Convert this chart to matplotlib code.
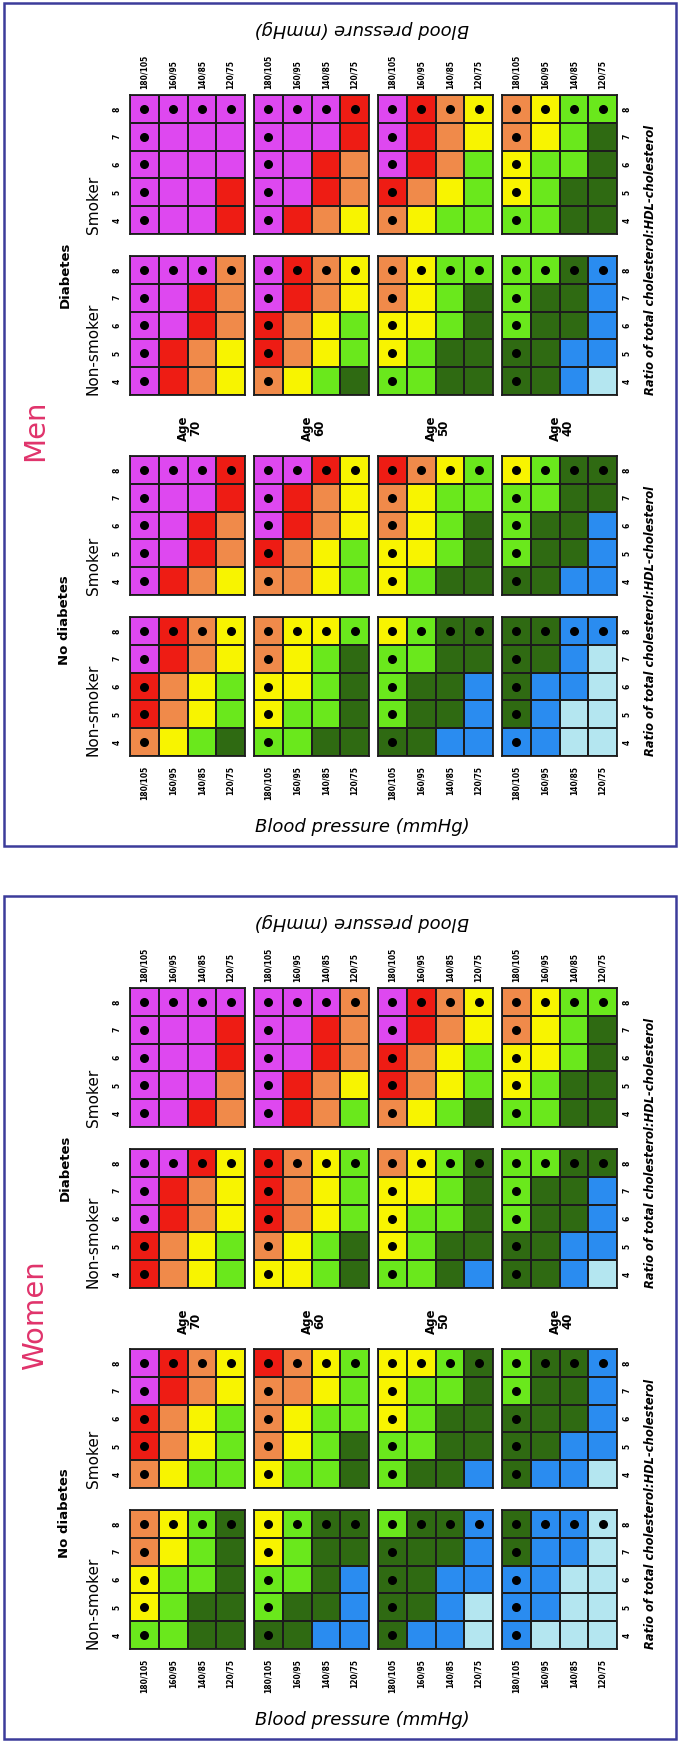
import numpy as np
import matplotlib
matplotlib.use('Agg')
import matplotlib.pyplot as plt
from matplotlib.colors import ListedColormap, BoundaryNorm
from matplotlib.patches import Rectangle

W, H = 679, 1742

# risk bands, lowest to highest
risk_codes = 'LBDGYORM'
risk_colors = ['#b4e6f0', '#2a8cf0', '#2f6a12', '#6ae81c',
               '#f8f400', '#f08a4a', '#ee1c14', '#de48f0']

ratios = [4, 5, 6, 7, 8]
bp_labels = ['180/105', '160/95', '140/85', '120/75']
ages = [70, 60, 50, 40]

# one grid per age; rows are ratio 8 down to 4, columns 180/105 .. 120/75
men_diab_smoker = [
    ['MMMM', 'MMMM', 'MMMM', 'MMMR', 'MMMR'],
    ['MMMR', 'MMMR', 'MMRO', 'MMRO', 'MROY'],
    ['MROY', 'MROY', 'MROG', 'ROYG', 'OYGG'],
    ['OYGG', 'OYGD', 'YGGD', 'YGDD', 'GGDD'],
]
men_diab_nonsmoker = [
    ['MMMO', 'MMRO', 'MMRO', 'MROY', 'MROY'],
    ['MROY', 'MROY', 'ROYG', 'ROYG', 'OYGD'],
    ['OYGG', 'OYGD', 'YYGD', 'YGDD', 'GGDD'],
    ['GGDB', 'GDDB', 'GDDB', 'DDBB', 'DDBL'],
]
men_nodiab_smoker = [
    ['MMMR', 'MMMR', 'MMRO', 'MMRO', 'MROY'],
    ['MMRY', 'MROY', 'MROY', 'ROYG', 'OOYG'],
    ['ROYG', 'OYGG', 'OYGD', 'YYGD', 'YGDD'],
    ['YGDD', 'GGDD', 'GDDB', 'GDDB', 'DDBB'],
]
men_nodiab_nonsmoker = [
    ['MROY', 'MROY', 'ROYG', 'ROYG', 'OYGD'],
    ['OYYG', 'OYGD', 'YYGD', 'YGGD', 'GGDD'],
    ['YGDD', 'GGDD', 'GDDB', 'GDDB', 'DDBB'],
    ['DDBB', 'DDBL', 'DBBL', 'DBLL', 'BBLL'],
]
women_diab_smoker = [
    ['MMMM', 'MMMR', 'MMMR', 'MMMO', 'MMRO'],
    ['MMMO', 'MMRO', 'MMRO', 'MROY', 'MROG'],
    ['MROY', 'MROY', 'ROYG', 'ROYG', 'OYGD'],
    ['OYGG', 'OYGD', 'YYGD', 'YGDD', 'GGDD'],
]
women_diab_nonsmoker = [
    ['MMRY', 'MROY', 'MROY', 'ROYG', 'ROYG'],
    ['ROYG', 'ROYG', 'ROYG', 'OYGD', 'YYGD'],
    ['OYGD', 'YYGD', 'YGGD', 'YGDD', 'GGDB'],
    ['GGDD', 'GDDB', 'GDDB', 'DDBB', 'DDBL'],
]
women_nodiab_smoker = [
    ['MROY', 'MROY', 'ROYG', 'ROYG', 'OYGG'],
    ['ROYG', 'OOYG', 'OYGG', 'OYGD', 'YGGD'],
    ['YYGD', 'YGGD', 'YGDD', 'GGDD', 'GDDB'],
    ['GDDB', 'GDDB', 'DDDB', 'DDBB', 'DBBL'],
]
women_nodiab_nonsmoker = [
    ['OYGD', 'OYGD', 'YGGD', 'YGDD', 'GGDD'],
    ['YGDD', 'YGDD', 'GGDB', 'GDDB', 'DDBB'],
    ['GDDB', 'DDDB', 'DDBB', 'DDBL', 'DBBL'],
    ['DBBL', 'DBBL', 'BBLL', 'BBLL', 'BLLL'],
]

panels = [
    ('Men', 0, 430, [men_diab_smoker, men_diab_nonsmoker,
                     men_nodiab_smoker, men_nodiab_nonsmoker]),
    ('Women', 893, 422, [women_diab_smoker, women_diab_nonsmoker,
                         women_nodiab_smoker, women_nodiab_nonsmoker]),
]

cmap = ListedColormap(risk_colors)
norm = BoundaryNorm(np.arange(-0.5, len(risk_colors)), cmap.N)

grid_x = [130, 254, 378, 502]
grid_w = 115
row_tops = [95, 256, 456, 617]
grid_h = 139
line_col = '#1c1c1c'


def fx(x):
    return x / W


def fy(y):
    return 1 - y / H


def draw_grid(ax, rows, top, bottom, left, right):
    codes = np.array([[risk_codes.index(c) for c in r] for r in rows[::-1]])
    ax.pcolormesh(np.arange(5), np.arange(3.5, 9), codes, cmap=cmap, norm=norm,
                  edgecolors=line_col, linewidth=1.1)
    # dots mark the 180/105 column and the ratio 8 row
    xs, ys = [], []
    for r in ratios:
        for j in range(4):
            if j == 0 or r == 8:
                xs.append(j + 0.5)
                ys.append(r)
    ax.scatter(xs, ys, s=30, color='black', zorder=3)
    ax.set_xlim(0, 4)
    ax.set_ylim(3.5, 8.5)
    ax.set_xticks([0.5, 1.5, 2.5, 3.5])
    ax.set_xticklabels(bp_labels, rotation=90, fontsize=5.5, fontweight='bold')
    ax.set_yticks(ratios)
    ax.set_yticklabels(ratios, rotation=90, fontsize=5.5, fontweight='bold', va='center')
    ax.tick_params(axis='x', length=0, top=top, labeltop=top,
                   bottom=bottom, labelbottom=bottom, pad=4 if top else 7)
    ax.tick_params(axis='y', length=0, left=left, labelleft=left,
                   right=right, labelright=right, pad=6 if left else 4)
    for sp in ax.spines.values():
        sp.set_color(line_col)
        sp.set_linewidth(1.3)


fig = plt.figure(figsize=(W / 100, H / 100), dpi=100)

for sex, y0, sex_y, groups in panels:
    # panel frame
    fig.add_artist(Rectangle((fx(4), fy(y0 + 846)), (676 - 4) / W, 843 / H,
                             transform=fig.transFigure, fill=False,
                             edgecolor='#3c3c9a', linewidth=1.8))

    for k, grids in enumerate(groups):
        top = row_tops[k] + y0
        for a, rows in enumerate(grids):
            ax = fig.add_axes([fx(grid_x[a]), fy(top + grid_h), grid_w / W, grid_h / H])
            draw_grid(ax, rows, top=(k == 0), bottom=(k == 3),
                      left=(a == 0), right=(a == 3))
        smoke = 'Smoker' if k % 2 == 0 else 'Non-smoker'
        fig.text(fx(93), fy(top + grid_h), smoke, rotation=90, fontsize=11,
                 ha='center', va='bottom')

    fig.text(fx(65), fy(y0 + 275), 'Diabetes', rotation=90, fontsize=9.5,
             fontweight='bold', ha='center', va='center')
    fig.text(fx(65), fy(y0 + 620), 'No diabetes', rotation=90, fontsize=9.5,
             fontweight='bold', ha='center', va='center')

    for a, age in enumerate(ages):
        cx = grid_x[a] + grid_w / 2 + 2
        fig.text(fx(cx), fy(y0 + 428), 'Age\n%d' % age, rotation=90, fontsize=8.5,
                 fontweight='bold', ha='center', va='center', linespacing=1.0)

    for yb in (row_tops[1] + grid_h, row_tops[3] + grid_h):
        fig.text(fx(650), fy(y0 + yb), 'Ratio of total cholesterol:HDL-cholesterol',
                 rotation=90, fontsize=8.3, style='italic', fontweight='bold',
                 ha='center', va='bottom')

    fig.text(fx(362), fy(y0 + 29), 'Blood pressure (mmHg)', rotation=180,
             fontsize=13, style='italic', ha='center', va='center')
    fig.text(fx(362), fy(y0 + 827), 'Blood pressure (mmHg)', fontsize=13,
             style='italic', ha='center', va='center')

    fig.text(fx(35), fy(sex_y + y0), sex, rotation=90, fontsize=21,
             color='#e0336b', ha='center', va='center')

fig.savefig('out.png', dpi=100)
